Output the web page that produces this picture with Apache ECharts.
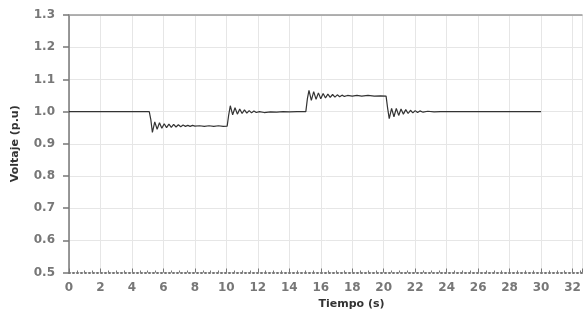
<!DOCTYPE html>
<html>
<head>
<meta charset="utf-8">
<script src="https://cdn.jsdelivr.net/npm/echarts@6/dist/echarts.min.js"></script>
<style>html,body{margin:0;padding:0;background:#fff}#c{width:585px;height:322px}</style>
</head>
<body>
<div id="c"></div>
<script>
const timeS = [0, 2.5, 5.1,
  5.2, 5.3, 5.45, 5.6, 5.75, 5.9, 6.05, 6.2, 6.35, 6.5, 6.65, 6.8, 6.95, 7.1, 7.25, 7.4, 7.55, 7.7, 7.85, 8.0, 8.3, 8.6, 8.9, 9.2, 9.5, 9.8, 10.05,
  10.15, 10.25, 10.4, 10.55, 10.7, 10.85, 11.0, 11.15, 11.3, 11.45, 11.6, 11.75, 11.9, 12.1, 12.4, 12.8, 13.2, 13.6, 14.0, 14.5, 15.05,
  15.15, 15.25, 15.4, 15.55, 15.7, 15.85, 16.0, 16.15, 16.3, 16.45, 16.6, 16.75, 16.9, 17.05, 17.2, 17.35, 17.5, 17.7, 18.0, 18.3, 18.6, 19.0, 19.4, 19.8, 20.15,
  20.25, 20.35, 20.5, 20.65, 20.8, 20.95, 21.1, 21.25, 21.4, 21.55, 21.7, 21.85, 22.0, 22.15, 22.3, 22.5, 22.8, 23.2, 23.6, 24.5, 26, 28, 30];
const voltage = [1.0, 1.0, 1.0,
  0.975, 0.935, 0.968, 0.945, 0.965, 0.948, 0.962, 0.950, 0.961, 0.951, 0.960, 0.952, 0.959, 0.953, 0.958, 0.954, 0.957, 0.954, 0.957, 0.955, 0.956, 0.954, 0.956, 0.954, 0.956, 0.954, 0.955,
  0.99, 1.018, 0.99, 1.012, 0.992, 1.008, 0.994, 1.005, 0.995, 1.003, 0.996, 1.002, 0.997, 1.0, 0.997, 0.999, 0.998, 1.0, 0.999, 1.0, 1.0,
  1.04, 1.066, 1.035, 1.062, 1.038, 1.058, 1.04, 1.056, 1.042, 1.054, 1.044, 1.053, 1.045, 1.052, 1.046, 1.051, 1.047, 1.05, 1.048, 1.05, 1.048, 1.05, 1.048, 1.049, 1.048,
  1.01, 0.978, 1.01, 0.984, 1.01, 0.988, 1.008, 0.992, 1.006, 0.994, 1.004, 0.996, 1.003, 0.997, 1.002, 0.998, 1.001, 0.999, 1.0, 1.0, 1.0, 1.0, 1.0];
const xName = 'Tiempo (s)';
const yName = 'Voltaje (p.u)';

const chart = echarts.init(document.getElementById('c'), null, {renderer: 'canvas'});
const font = 'DejaVu Sans';
const xMax = 32.6;
chart.setOption({
  animation: false,
  backgroundColor: '#fff',
  grid: {left: 69, top: 15, right: 0, height: 257.5},
  xAxis: [{
    type: 'value', min: 0, max: xMax, interval: 2,
    name: xName, nameLocation: 'middle', nameGap: 26,
    nameTextStyle: {fontFamily: font, fontWeight: 'bold', fontSize: 11, color: '#333', padding: [0, 0, 0, 52]},
    axisLine: {lineStyle: {color: '#777', type: [1, 3], width: 2}},
    axisTick: {show: true, inside: true, length: 4, lineStyle: {color: '#777'}},
    minorTick: {show: true, splitNumber: 4, length: 2, lineStyle: {color: '#777'}},
    axisLabel: {fontFamily: font, fontWeight: 'bold', fontSize: 12, color: '#777', margin: 9,
      formatter: v => (Math.abs(v % 2) < 1e-6 ? String(v) : '')},
    splitLine: {show: true, lineStyle: {color: '#e6e6e6', width: 1}}
  }, {
    type: 'value', position: 'top', min: 0, max: xMax,
    axisLine: {show: true, lineStyle: {color: '#999', width: 1.5}},
    axisTick: {show: false}, axisLabel: {show: false}, splitLine: {show: false}
  }],
  yAxis: {
    type: 'value', min: 0.5, max: 1.3, interval: 0.1,
    name: yName, nameLocation: 'middle', nameGap: 48,
    nameTextStyle: {fontFamily: font, fontWeight: 'bold', fontSize: 11, color: '#333'},
    axisLine: {show: true, lineStyle: {color: '#777', width: 1.5}},
    axisTick: {show: true, inside: false, length: 6, lineStyle: {color: '#777', width: 1.5}},
    axisLabel: {fontFamily: font, fontWeight: 'bold', fontSize: 12, color: '#777', margin: 14,
      formatter: v => v.toFixed(1)},
    splitLine: {show: true, lineStyle: {color: '#e6e6e6', width: 1}}
  },
  series: [{
    type: 'line', showSymbol: false, symbol: 'none',
    data: timeS.map((t, i) => [t, voltage[i]]),
    lineStyle: {color: '#333', width: 1.2}
  }]
});
</script>
</body>
</html>
